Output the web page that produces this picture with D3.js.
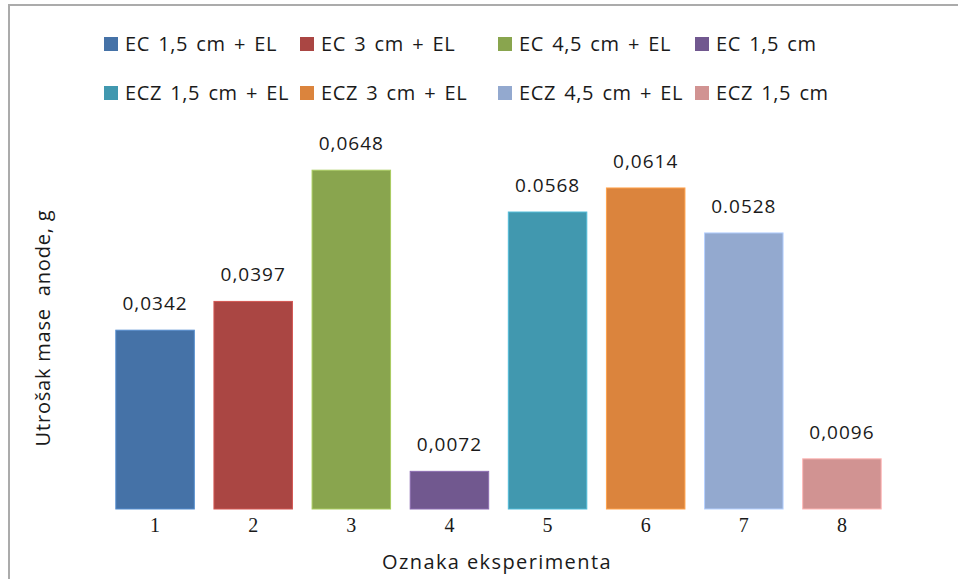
<!DOCTYPE html>
<html><head><meta charset="utf-8">
<script src="https://cdn.jsdelivr.net/npm/d3@7"></script>
<style>body{margin:0;background:#fff}svg{display:block}</style>
</head><body>
<svg id="c" width="958" height="579"></svg>
<script>
const categories = ["1","2","3","4","5","6","7","8"];
const seriesNames = ["EC 1,5 cm + EL","EC 3 cm + EL","EC 4,5 cm + EL","EC 1,5 cm","ECZ 1,5 cm + EL","ECZ 3 cm + EL","ECZ 4,5 cm + EL","ECZ 1,5 cm"];
const values = [0.0342,0.0397,0.0648,0.0072,0.0568,0.0614,0.0528,0.0096];
const valueLabels = ["0,0342","0,0397","0,0648","0,0072","0.0568","0,0614","0.0528","0,0096"];
const colors = ["#4572A7","#AA4643","#89A54E","#71588F","#4198AF","#DB843D","#93A9CF","#D19392"];
const xTitle = "Oznaka eksperimenta";
const yTitle = "Utrošak mase  anode, g";

const svg = d3.select("#c");
const font = "'Open Sans', Lato, sans-serif";
// outer border
svg.append("rect").attr("x",9).attr("y",5).attr("width",1000).attr("height",1000)
  .attr("fill","none").attr("stroke","#ababab").attr("stroke-width",2);

const x = d3.scaleBand().domain(categories).range([106,891]).paddingInner(0.2).paddingOuter(0.1);
const y = d3.scaleLinear().domain([0,0.07]).range([509,143]);

svg.selectAll("rect.bar").data(values).join("rect").attr("class","bar")
  .attr("x",(d,i)=>x(categories[i])).attr("width",x.bandwidth())
  .attr("y",d=>y(d)).attr("height",d=>y(0)-y(d))
  .attr("fill",(d,i)=>colors[i])
  .attr("stroke",(d,i)=>d3.color(colors[i]).brighter(0.6)).attr("stroke-width",1);

svg.selectAll("text.vl").data(values).join("text").attr("class","vl")
  .attr("x",(d,i)=>x(categories[i])+x.bandwidth()/2).attr("y",d=>y(d)-20)
  .attr("text-anchor","middle").attr("font-family",font).attr("font-size",19).attr("letter-spacing",1)
  .attr("fill","#1a1a1a").text((d,i)=>valueLabels[i]);

const xAxis = d3.axisBottom(x).tickSize(0).tickPadding(9);
const gx = svg.append("g").attr("transform",`translate(0,${y(0)})`).call(xAxis);
gx.select(".domain").remove();
gx.selectAll("text").attr("font-family","'Liberation Serif', serif").attr("font-size",20).attr("fill","#1a1a1a");

svg.append("text").attr("x",497).attr("y",569).attr("text-anchor","middle")
  .attr("font-family",font).attr("font-size",20).attr("letter-spacing",1.4).attr("fill","#1a1a1a").text(xTitle);
svg.append("text").attr("transform","translate(50,328) rotate(-90)").attr("text-anchor","middle")
  .attr("font-family",font).attr("font-size",20).attr("letter-spacing",0.8).attr("fill","#1a1a1a").style("white-space","pre").text(yTitle);

const legX = [104,300,498,695];
const legY = [44,93];
const lg = svg.append("g");
seriesNames.forEach((n,i)=>{
  const cx = legX[i%4], cy = legY[Math.floor(i/4)];
  lg.append("rect").attr("x",cx).attr("y",cy-7).attr("width",14).attr("height",14).attr("fill",colors[i]);
  lg.append("text").attr("x",cx+21).attr("y",cy+7).attr("font-family",font).attr("font-size",20)
    .attr("letter-spacing",0.6).attr("word-spacing",2.5).attr("fill","#1a1a1a").text(n);
});
</script>
</body></html>
